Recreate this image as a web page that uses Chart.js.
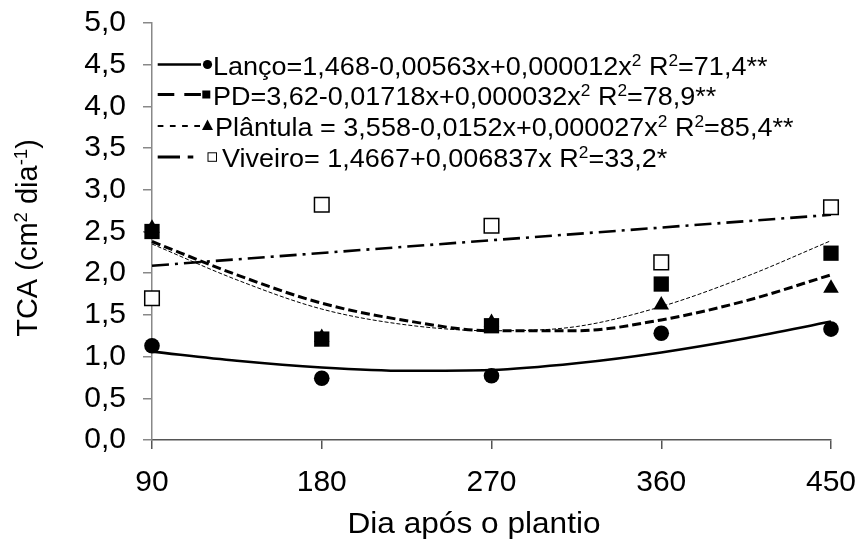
<!DOCTYPE html>
<html><head><meta charset="utf-8">
<script src="https://cdn.jsdelivr.net/npm/chart.js@4/dist/chart.umd.min.js"></script>
<style>html,body{margin:0;padding:0;background:#fff}#wrap{width:859px;height:541px;position:relative}</style>
</head><body><div id="wrap"><canvas id="c" width="859" height="541"></canvas></div>
<script>
// ---- data ----
const days = [90, 180, 270, 360, 450];
const lanco = [1.13, 0.74, 0.77, 1.28, 1.33];
const pd = [2.50, 1.21, 1.37, 1.87, 2.24];
const plantula = [2.54, 1.23, 1.41, 1.62, 1.82];
const viveiro = [1.70, 2.82, 2.57, 2.13, 2.79];
// fitted curves
const fitDays = [90, 135, 180, 225, 270, 315, 360, 405, 450];
const lancoFit = [1.06, 0.95, 0.87, 0.83, 0.84, 0.92, 1.05, 1.22, 1.42];
const pdFit = [2.38, 1.98, 1.64, 1.43, 1.31, 1.31, 1.44, 1.67, 1.98];
const plantulaFit = [2.35, 1.92, 1.57, 1.38, 1.31, 1.36, 1.60, 1.96, 2.39];
const viveiroFitDays = [90, 450];
const viveiroFit = [2.09, 2.70];
const xTicks = [90, 180, 270, 360, 450];
const legendTexts = [
  "Lanço=1,468-0,00563x+0,000012x{2} R{2}=71,4**",
  "PD=3,62-0,01718x+0,000032x{2} R{2}=78,9**",
  "Plântula = 3,558-0,0152x+0,000027x{2} R{2}=85,4**",
  "Viveiro= 1,4667+0,006837x R{2}=33,2*"
];
const yTitle = "TCA (cm{2} dia{-1})";
const xTitle = "Dia após o plantio";

const FONT = "'Liberation Sans', Arial, sans-serif";
const pts = (xs, ys) => xs.map((x, i) => ({x: x, y: ys[i]}));

function drawRich(ctx, str, x, y, size, align, sx) {
  const parts = [];
  const re = /\{([^}]*)\}|([^{]+)/g; let m;
  while ((m = re.exec(str))) parts.push(m[1] !== undefined ? {t: m[1], sup: true} : {t: m[2], sup: false});
  const supSize = size * 0.64;
  let w = 0;
  parts.forEach(p => { ctx.font = (p.sup ? supSize : size) + "px " + FONT; p.w = ctx.measureText(p.t).width; w += p.w; });
  ctx.save();
  ctx.translate(x, y); ctx.scale(sx || 1, 1);
  let cx = align === 'center' ? -w / 2 : 0;
  ctx.textBaseline = 'alphabetic'; ctx.textAlign = 'left';
  parts.forEach(p => {
    ctx.font = (p.sup ? supSize : size) + "px " + FONT;
    ctx.fillText(p.t, cx, p.sup ? -size * 0.36 : 0);
    cx += p.w;
  });
  ctx.restore();
}

const legendSamples = [
  {y: 64.5, tx: 213, draw(ctx, y) {
    ctx.lineWidth = 2.6; ctx.setLineDash([]); ctx.beginPath(); ctx.moveTo(157.7, y); ctx.lineTo(201, y); ctx.stroke();
    ctx.beginPath(); ctx.arc(207.5, y, 4.6, 0, Math.PI * 2); ctx.fill(); }},
  {y: 94.5, tx: 213, draw(ctx, y) {
    ctx.lineWidth = 3; ctx.setLineDash([16.6, 10]); ctx.beginPath(); ctx.moveTo(157.7, y); ctx.lineTo(201, y); ctx.stroke();
    ctx.setLineDash([]); ctx.fillRect(202.3, y - 4, 8, 8); }},
  {y: 126, tx: 215, draw(ctx, y) {
    ctx.lineWidth = 1.8; ctx.setLineDash([5.7, 6.5]); ctx.beginPath(); ctx.moveTo(157.7, y); ctx.lineTo(201, y); ctx.stroke();
    ctx.setLineDash([]); ctx.beginPath(); ctx.moveTo(207.5, y - 6.5); ctx.lineTo(213, y + 4); ctx.lineTo(202, y + 4); ctx.closePath(); ctx.fill(); }},
  {y: 157, tx: 222, draw(ctx, y) {
    ctx.lineWidth = 3.2; ctx.setLineDash([22.3, 7.7, 5.6, 100]); ctx.beginPath(); ctx.moveTo(157.7, y); ctx.lineTo(194, y); ctx.stroke();
    ctx.setLineDash([]); ctx.lineWidth = 1; ctx.fillStyle = '#fff'; ctx.fillRect(208, y - 4.2, 8.5, 8.5); ctx.strokeRect(208, y - 4.2, 8.5, 8.5); ctx.fillStyle = '#000'; }}
];

const overlay = {
  id: 'overlay',
  afterDraw(chart) {
    const ctx = chart.ctx;
    ctx.save();
    ctx.fillStyle = '#000'; ctx.strokeStyle = '#000';
    legendSamples.forEach((s, i) => {
      ctx.save(); s.draw(ctx, s.y); ctx.restore();
      ctx.fillStyle = '#000';
      drawRich(ctx, legendTexts[i], s.tx, s.y + 10, 25, 'left', 1.08);
    });
    // axis titles
    drawRich(ctx, xTitle, 474, 533, 29, 'center', 1.09);
    ctx.save(); ctx.translate(37, 238); ctx.rotate(-Math.PI / 2);
    drawRich(ctx, yTitle, 0, 0, 29, 'center', 1);
    ctx.restore();
    ctx.restore();
  }
};

const markerBase = {showLine: false, clip: false, borderColor: '#000', backgroundColor: '#000', borderWidth: 0, pointHoverRadius: 0};
const lineBase = {showLine: true, clip: false, pointRadius: 0, borderColor: '#000', fill: false, cubicInterpolationMode: 'monotone'};

new Chart(document.getElementById('c'), {
  type: 'scatter',
  data: {
    datasets: [
      Object.assign({}, lineBase, {label: 'Lanço fit', data: pts(fitDays, lancoFit), borderWidth: 2.6, order: 10}),
      Object.assign({}, lineBase, {label: 'PD fit', data: pts(fitDays, pdFit), borderWidth: 3, borderDash: [9, 4], order: 10}),
      Object.assign({}, lineBase, {label: 'Plântula fit', data: pts(fitDays, plantulaFit), borderWidth: 1, borderDash: [4, 2], order: 10}),
      Object.assign({}, lineBase, {label: 'Viveiro fit', data: pts(viveiroFitDays, viveiroFit), borderWidth: 2.6, borderDash: [17, 6, 3, 6], order: 10}),
      Object.assign({}, markerBase, {label: 'Plântula', data: pts(days, plantula), pointStyle: 'triangle', pointRadius: 9, order: 3}),
      Object.assign({}, markerBase, {label: 'PD', data: pts(days, pd), pointStyle: 'rect', pointRadius: 10.8, order: 2}),
      Object.assign({}, markerBase, {label: 'Lanço', data: pts(days, lanco), pointStyle: 'circle', pointRadius: 7.8, order: 1}),
      Object.assign({}, markerBase, {label: 'Viveiro', data: pts(days, viveiro), pointStyle: 'rect', pointRadius: 10.3, backgroundColor: '#fff', borderWidth: 1.5, order: 1})
    ]
  },
  options: {
    responsive: false, animation: false, devicePixelRatio: 1,
    layout: {padding: {top: 23, right: 28, left: 0, bottom: 0}},
    plugins: {legend: {display: false}, tooltip: {enabled: false}},
    scales: {
      x: {
        type: 'linear', min: 90, max: 450,
        afterFit(s) { s.height = 101; s.paddingLeft = 0; s.paddingRight = 0; s.paddingTop = 0; s.paddingBottom = 0; },
        afterBuildTicks(s) { s.ticks = xTicks.map(v => ({value: v})); },
        ticks: {font: {size: 30, family: FONT}, color: '#000', padding: 16, maxRotation: 0, callback: v => String(v)},
        grid: {drawOnChartArea: false, drawTicks: true, tickLength: 9, color: '#555', lineWidth: 1.5},
        border: {display: true, color: '#555', width: 1.5}
      },
      y: {
        min: 0, max: 5,
        afterFit(s) { s.width = 152; s.paddingTop = 0; s.paddingBottom = 0; s.paddingLeft = 0; s.paddingRight = 0; },
        ticks: {stepSize: 0.5, font: {size: 30, family: FONT}, color: '#000', padding: 17, callback: v => v.toFixed(1).replace('.', ',')},
        grid: {drawOnChartArea: false, drawTicks: true, tickLength: 9, color: '#888', lineWidth: 1.5},
        border: {display: true, color: '#888', width: 1.5}
      }
    }
  },
  plugins: [overlay]
});
</script></body></html>
